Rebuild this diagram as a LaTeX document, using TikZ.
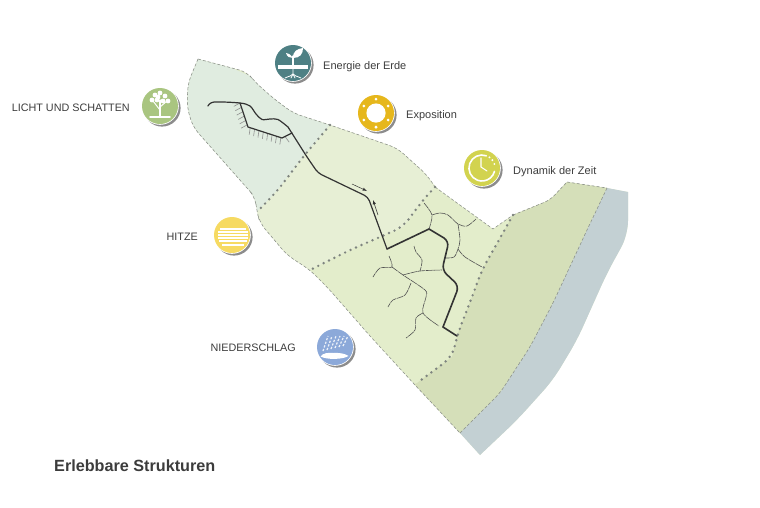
\documentclass[tikz,border=0pt]{standalone}
\usepackage{fontspec}
\setmainfont{Liberation Sans}
\usetikzlibrary{decorations.pathreplacing}
\definecolor{inkgrey}{HTML}{3C3C3C}
\definecolor{pathgrey}{HTML}{333333}
\definecolor{edgegrey}{HTML}{8A8F88}
\definecolor{dotgrey}{HTML}{7E847F}
\definecolor{zoneA}{HTML}{E0ECE0}
\definecolor{zoneB}{HTML}{E7EFD5}
\definecolor{zoneC}{HTML}{E3EDCB}
\definecolor{zoneD}{HTML}{D5DFB9}
\definecolor{zoneE}{HTML}{C3D0D3}
\definecolor{treeicon}{HTML}{A9C580}
\definecolor{earthicon}{HTML}{4E8084}
\definecolor{sunicon}{HTML}{E6B71C}
\definecolor{timeicon}{HTML}{D2D34F}
\definecolor{heaticon}{HTML}{F6DA62}
\definecolor{rainicon}{HTML}{8CA9D9}
\tikzset{
  edge/.style={draw=edgegrey,densely dashed,line width=0.55pt,rounded corners=8pt},
  dotline/.style={draw=dotgrey,line width=2.7pt,line cap=round,dash pattern=on 0pt off 6pt,rounded corners=10pt},
  mainpath/.style={draw=pathgrey,line width=1.2pt,line join=round,line cap=round},
  branch/.style={draw=pathgrey!85,line width=0.6pt,dash pattern=on 7pt off 0.7pt},
  hatch/.style={draw=pathgrey!55,line width=0.6pt,decorate,decoration={border,segment length=4.6pt,amplitude=7pt,angle=-80}},
  flowarrow/.style={->,>=latex,draw=pathgrey,line width=0.5pt},
  lab/.style={text=inkgrey,font=\fontsize{11}{13}\selectfont,inner sep=0pt},
  capslab/.style={lab,font=\fontsize{10.8}{13}\selectfont},
  ring/.style={circle,inner sep=0pt,minimum size=36pt},
  title/.style={text=inkgrey,font=\fontsize{16.2}{18}\selectfont\bfseries,inner sep=0pt},
  glyph/.style={draw=white,line width=1pt,line cap=round}
}
% shadow and rim behind a round icon
\newcommand{\iconbase}[3]{
  \fill[black!45] (#2+2,#3+2) circle (18.6);
  \fill[white] (#2,#3) circle (18.8);
  \node[ring,fill=#1] (#1) at (#2,#3) {};
}
\begin{document}
\begin{tikzpicture}[x=1pt,y=-1pt]
\useasboundingbox (0,0) rectangle (760,507);
% zones
\begin{scope}
\clip[rounded corners=8pt] (198,59)--(247,72)--(255,82)--(273,98)--(293,113)--(330,125)--(397,148)--(427,175)--(435,187) [sharp corners] --(493,229)--(513,215) [rounded corners=6pt] --(550,200) [sharp corners] --(567,182)--(607,188)--(628,192) [rounded corners=14pt] --(628,235)--(607,273)--(577,340)--(553,380)--(517,420) [sharp corners] --(480,455)--(460,433) [rounded corners=8pt] --(415,385)--(370,336)--(328,288)--(310,270)--(287,255)--(260,223)--(257,212)--(255,197)--(247,188)--(193,127)--(187,107)--(188,83) [sharp corners] --cycle;
\fill[zoneC] (180,50) rectangle (640,460);
\fill[zoneA] (190,50)--(340,115)--(330,125)--(303,157)--(278,190)--(257,212)--(240,215)--(180,120)--cycle;
\fill[zoneB] (330,125)--(350,120)--(450,170)--(435,187)--(423,200)--(403,227)--(350,250)--(310,270)--(280,270)--(240,215)--(257,212)--(278,190)--(303,157)--cycle;
\fill[zoneD] (513,215)--(540,180)--(607,170)--(607,188)--(587,230)--(553,303)--(530,347)--(500,393)--(460,433)--(450,445)--(400,390)--(417,383)--(452,357)--(458,333)--(472,297)--(482,270)--cycle;
\fill[zoneE] (607,188)--(607,170)--(640,170)--(640,300)--(490,470)--(450,445)--(460,433)--(500,393)--(530,347)--(553,303)--(587,230)--cycle;
\end{scope}
% outer edges
\draw[edge] (198,59)--(247,72)--(255,82)--(273,98)--(293,113)--(330,125)--(397,148)--(427,175)--(435,187);
\draw[edge] (198,59)--(188,83)--(187,107)--(193,127)--(247,188)--(255,197)--(257,212)--(260,223)--(287,255)--(310,270)--(328,288)--(370,336)--(415,385)--(460,433);
\draw[edge,sharp corners] (435,187)--(493,229)--(513,215);
\draw[edge,rounded corners=6pt] (513,215)--(550,200)--(567,182);
\draw[edge,sharp corners] (567,182)--(607,188);
\draw[edge] (607,188)--(587,230)--(553,303)--(530,347)--(500,393)--(460,433);
% dotted borders
\draw[dotline] (330,125)--(303,157)--(278,190)--(257,212);
\draw[dotline] (435,187)--(423,200)--(403,227)--(350,250)--(310,270);
\draw[dotline] (513,215)--(482,270)--(472,297)--(458,333)--(452,357)--(417,383);
% small branches
\draw[branch] plot[smooth] coordinates {(424,203)(432,215)(429,229)};
\draw[branch] plot[smooth] coordinates {(432,215)(440,213)(448,215)(458,224)(467,226)(476,219)};
\draw[branch] plot[smooth] coordinates {(458,224)(460,240)(458,249)(454,257)(445,258)};
\draw[branch] plot[smooth] coordinates {(458,249)(465,257)(482,267)};
\draw[branch] plot[smooth] coordinates {(389,256)(392,267)(380,268)(373,277)};
\draw[branch] plot[smooth] coordinates {(392,267)(403,275)(425,290)(426,297)(423,313)(439,326)};
\draw[branch] plot[smooth] coordinates {(403,275)(420,271)(442,270)};
\draw[branch] plot[smooth] coordinates {(414,246)(416,252)(422,260)(420,271)};
\draw[branch] plot[smooth] coordinates {(411,283)(405,295)(393,300)(388,307)};
\draw[branch] plot[smooth] coordinates {(423,313)(416,318)(415,330)(406,338)};
% main path with hatched bank
\draw[hatch] (240,103)--(248,127)--(282,138)--(292,133);
\draw[mainpath] (240,103)--(248,127)--(282,138)--(292,133);
\draw[mainpath] plot[smooth,tension=0.5] coordinates {(208,106)(214,102)(240,103)(250,106)(256,114)(262,119.5)(270,119)(278,119.5)(288,127)};
\draw[mainpath,rounded corners=4pt] (288,127)--(307,157)--(318,173)--(368,197)--(387,249);
\draw[mainpath,line width=1.6pt] (387,249)--(429,229);
\draw[mainpath,line width=1.6pt,rounded corners=6pt] (429,229)--(449,241)--(442,270)--(459,286)--(443,327);
\draw[mainpath,line width=1.6pt] (443,327)--(457,336);
\draw[flowarrow] (352,184)--(367,191);
\draw[flowarrow] (378,215)--(373,200);
% icons
\iconbase{treeicon}{160}{106}
\draw[glyph,line width=1.4pt] (160,100)--(160,116);
\draw[glyph,line width=1.6pt] (150,117)--(170,117);
\draw[glyph] (160,110)--(153,101) (160,107)--(167,101);
\foreach \cx/\cy in {155/95,160/93,165/96,152/100,157/100,163/101,168/101,158/97}
  \fill[white] (\cx,\cy) circle (2.4);
\iconbase{earthicon}{293}{63}
\fill[white] (278,65) rectangle (308,68.5);
\draw[glyph,line width=1.2pt] (293,65)--(293,56);
\fill[white] (293,58) .. controls (293,51) and (297,49) .. (303,48) .. controls (303,54) and (300,58) .. cycle;
\fill[white] (293,58) .. controls (291,55) and (290,54) .. (286,53) .. controls (287,57) and (290,58) .. cycle;
\draw[glyph,line width=0.8pt] (293,68)--(293,74) .. controls (292,76) and (289,76) .. (285,78);
\draw[glyph,line width=0.8pt] (293,74) .. controls (294,76) and (297,76) .. (301,78);
\draw[glyph,line width=0.8pt] (293,74)--(291,78) (293,74)--(295,78);
\iconbase{sunicon}{376}{113}
\fill[white] (376,113) circle (9.6);
\foreach \ang in {90,150,...,450}
  \fill[white] (376,113)+(\ang:14) circle (1.5);
\iconbase{timeicon}{482}{168}
\draw[glyph,line width=1.6pt] (486.4,155.8) arc (-70:-345:13);
\draw[glyph,line width=1.1pt] (481,158)--(481,167)--(487,171);
\foreach \ang in {-55,-37,-18}
  \fill[white] (482,168)+(\ang:13) circle (1.1);
\iconbase{heaticon}{232}{235}
\foreach \ly/\lx in {229/220,232/218,235/218,238/218,241/219,245/222}
  \draw[glyph,line cap=butt,line width=1.1pt] (\lx,\ly)--(464-\lx+2,\ly);
\iconbase{rainicon}{335}{347}
\fill[white] (320.5,356.5) .. controls (323,353) and (328,352.5) .. (333,353) .. controls (339,352.5) and (345,353.5) .. (348.5,356) .. controls (343,359.5) and (327,360) .. cycle;
\foreach \i in {0,...,5}
  \draw[glyph,opacity=0.85,line cap=butt,line width=1.2pt,dash pattern=on 2.2pt off 1.6pt] (323+4*\i,351-\i)--(328+4*\i,336);
% labels
\node[capslab,anchor=base east] (lightlabel) at (130,111) {LICHT UND SCHATTEN};
\node[lab,anchor=base west] (earthlabel) at (323,69) {Energie der Erde};
\node[lab,anchor=base west] (sunlabel) at (406,118) {Exposition};
\node[lab,anchor=base west] (timelabel) at (513,174) {Dynamik der Zeit};
\node[capslab,anchor=base east] (heatlabel) at (198,240) {HITZE};
\node[capslab,anchor=base east] (rainlabel) at (296,351) {NIEDERSCHLAG};
\node[title,anchor=base west] (maintitle) at (54,471) {Erlebbare Strukturen};
\end{tikzpicture}
\end{document}
